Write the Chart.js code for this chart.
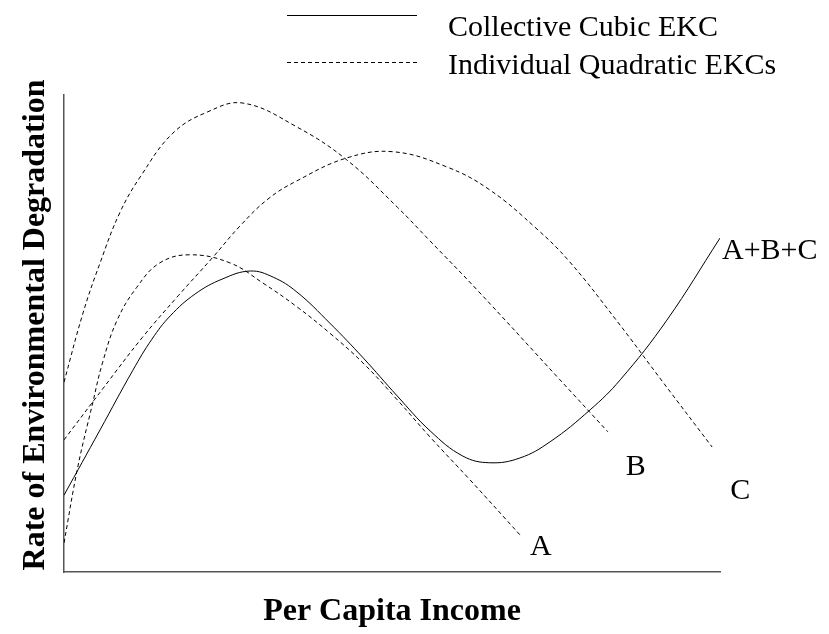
<!DOCTYPE html>
<html lang="en">
<head>
    <meta charset="UTF-8">
    <title>Collective Cubic EKC</title>
    <script src="https://cdn.jsdelivr.net/npm/chart.js"></script>
    <style>
        html, body { margin: 0; padding: 0; background: #fff; }
        #wrap { width: 829px; height: 634px; }
    </style>
</head>
<body>
    <div id="wrap"><canvas id="ekcChart"></canvas></div>
    <script>
        // Per capita income (0-100) and degradation (0-100)
        const incomeA = [0, 2.1, 4.3, 5.9, 8.1, 11.1, 14.6, 19.2, 25.3, 30.3, 35.5, 40.5, 45.6, 50.8, 55.8, 61.9, 69.5];
        const degradA = [6.1, 22.0, 35.0, 44.0, 52.8, 59.7, 64.8, 66.5, 64.8, 60.6, 55.6, 50.1, 43.8, 36.1, 28.3, 19.3, 7.8];

        const incomeB = [0, 2.9, 5.5, 8.5, 11.7, 16.6, 21.8, 27.3, 35.5, 43.1, 50.8, 55.8, 63.0, 75.6, 82.9];
        const degradB = [39.8, 54.3, 64.8, 75.3, 83.0, 92.0, 96.4, 98.3, 93.3, 86.4, 76.5, 69.4, 59.1, 40.3, 29.4];

        const incomeC = [0, 5.9, 11.9, 17.4, 22.7, 26.8, 31.1, 35.5, 43.1, 50.2, 58.4, 64.9, 72.1, 77.1, 84.3, 91.3, 98.8];
        const degradC = [27.7, 38.4, 49.1, 57.9, 66.0, 72.5, 78.2, 82.0, 86.8, 88.1, 84.9, 80.1, 71.9, 65.0, 52.6, 39.8, 26.2];

        const incomeSum = [0, 5.5, 10.5, 13.4, 16.2, 20.0, 24.1, 28.4, 31.9, 35.5, 40.5, 45.6, 50.8, 55.8, 60.8, 64.9, 69.5, 74.1, 80.2, 84.8, 91.9, 100];
        const degradSum = [16.1, 29.8, 42.3, 48.8, 53.7, 58.3, 61.4, 63.1, 61.8, 58.7, 52.2, 44.9, 36.9, 29.6, 24.3, 22.9, 23.9, 27.3, 34.0, 40.3, 52.8, 70.0];

        const curveNames = ['A', 'B', 'C', 'A+B+C'];
        const legendNames = ['Collective Cubic EKC', 'Individual Quadratic EKCs'];
        const xTitle = 'Per Capita Income';
        const yTitle = 'Rate of Environmental Degradation';

        const serif = '"Liberation Serif", "Times New Roman", serif';

        function toPoints(xs, ys) {
            return xs.map((x, i) => ({ x: x, y: ys[i] }));
        }

        function curve(label, xs, ys, dashed) {
            return {
                label: label,
                data: toPoints(xs, ys),
                borderColor: '#000',
                borderWidth: 1,
                borderDash: dashed ? [4, 3] : [],
                pointRadius: 0,
                tension: 0.4,
                fill: false
            };
        }

        // label offsets (px) from the end of each curve
        const labelOffsets = [[10, 20], [18, 43], [18, 52], [2, 21]];

        const annotations = {
            id: 'annotations',
            afterDraw(chart) {
                const ctx = chart.ctx;
                const area = chart.chartArea;
                ctx.save();
                ctx.fillStyle = '#000';

                // curve end labels
                ctx.font = '30px ' + serif;
                ctx.textAlign = 'left';
                ctx.textBaseline = 'alphabetic';
                chart.data.datasets.forEach((ds, i) => {
                    const meta = chart.getDatasetMeta(i);
                    const last = meta.data[meta.data.length - 1];
                    const off = labelOffsets[i];
                    ctx.fillText(curveNames[i], last.x + off[0], last.y + off[1]);
                });

                // legend
                ctx.strokeStyle = '#000';
                ctx.lineWidth = 1;
                ctx.beginPath();
                ctx.moveTo(287, 15.5);
                ctx.lineTo(417, 15.5);
                ctx.stroke();
                ctx.setLineDash([4, 3]);
                ctx.beginPath();
                ctx.moveTo(287, 62.5);
                ctx.lineTo(417, 62.5);
                ctx.stroke();
                ctx.setLineDash([]);
                ctx.fillText(legendNames[0], 448, 36);
                ctx.fillText(legendNames[1], 448, 74);

                // axis titles
                ctx.font = 'bold 32px ' + serif;
                ctx.textAlign = 'center';
                ctx.fillText(xTitle, (area.left + area.right) / 2, 620);
                ctx.translate(44, 325);
                ctx.rotate(-Math.PI / 2);
                ctx.fillText(yTitle, 0, 0);
                ctx.restore();
            }
        };

        new Chart(document.getElementById('ekcChart'), {
            type: 'line',
            data: {
                datasets: [
                    curve('A', incomeA, degradA, true),
                    curve('B', incomeB, degradB, true),
                    curve('C', incomeC, degradC, true),
                    curve('A+B+C', incomeSum, degradSum, false)
                ]
            },
            options: {
                responsive: true,
                maintainAspectRatio: false,
                animation: false,
                layout: { padding: { left: 64, right: 109, top: 95, bottom: 62 } },
                scales: {
                    x: {
                        type: 'linear',
                        min: 0,
                        max: 100,
                        ticks: { display: false },
                        grid: { display: false, drawTicks: false },
                        border: { display: true, color: '#555', width: 1.5 }
                    },
                    y: {
                        min: 0,
                        max: 100,
                        ticks: { display: false },
                        grid: { display: false, drawTicks: false },
                        border: { display: true, color: '#555', width: 1.5 }
                    }
                },
                plugins: {
                    legend: { display: false },
                    tooltip: { enabled: false }
                }
            },
            plugins: [annotations]
        });
    </script>
</body>
</html>
